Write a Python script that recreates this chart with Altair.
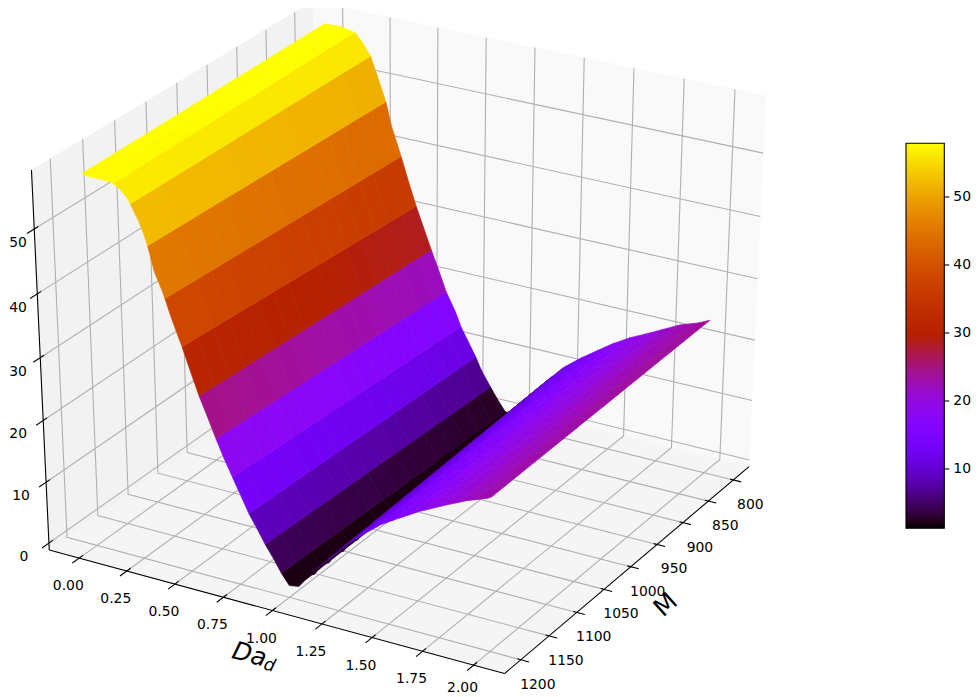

import numpy as np
import altair as alt

# ---- values ----
M_TICKS = [800, 850, 900, 950, 1000, 1050, 1100, 1150, 1200]
DA_TICKS = [0.0, 0.25, 0.5, 0.75, 1.0, 1.25, 1.5, 1.75, 2.0]
Z_TICKS = [0, 10, 20, 30, 40, 50]
DA_M1200 = [0.00, 0.04, 0.11, 0.15, 0.19, 0.23, 0.25, 0.28, 0.31, 0.33, 0.35, 0.39, 0.43, 0.48, 0.52, 0.56, 0.60, 0.64, 0.68, 0.72, 0.76, 0.80, 0.84, 0.88, 0.92, 0.96, 1.00, 1.05, 1.12, 1.21, 1.29, 1.38, 1.46, 1.54, 1.65, 1.78, 1.88, 1.98, 2.00]
Z_M1200 = [57.8, 57.6, 57.6, 57.5, 56.8, 55.5, 54.3, 52.5, 50.2, 48.0, 45.4, 42.5, 38.8, 34.7, 31.1, 27.6, 24.6, 21.5, 18.6, 16.0, 13.4, 10.8, 8.7, 6.5, 4.6, 2.5, 0.8, 1.1, 4.1, 7.0, 9.9, 12.4, 14.5, 16.1, 18.2, 20.3, 21.8, 23.0, 23.4]
DA_M800 = [0.00, 0.08, 0.16, 0.20, 0.24, 0.27, 0.32, 0.35, 0.40, 0.44, 0.48, 0.56, 0.60, 0.64, 0.69, 0.72, 0.80, 0.83, 0.88, 0.92, 0.96, 1.00, 1.04, 1.09, 1.18, 1.26, 1.35, 1.43, 1.51, 1.60, 1.69, 1.77, 1.85, 1.94, 2.00]
Z_M800 = [58.1, 58.2, 57.7, 56.3, 54.5, 52.0, 47.7, 43.9, 39.4, 35.5, 31.8, 25.2, 22.1, 18.8, 15.8, 13.5, 9.0, 7.0, 4.5, 2.6, 0.9, 0.9, 1.5, 4.8, 8.0, 10.7, 13.0, 14.8, 16.6, 18.3, 19.7, 21.0, 22.3, 23.3, 24.2]
BAND_EDGES = [round(.08 * i, 2) for i in range(26)]
M_COLS = list(range(800, 1201, 25))
ZMIN, ZMAX = 1.3, 57.9

# ---- 3-D view ----
ML, MH, DL, DH, ZL, ZH = 768.2, 1228.5, -0.159, 2.150, -1.14, 58.95
el, az = np.radians(28.74), np.radians(30.04)
box = np.array([1, 1, .95]) * 1.05
w = np.array([np.cos(el) * np.cos(az), np.cos(el) * np.sin(az), np.sin(el)])
eye = box / 2 + 10 * w
u = np.cross([0, 0, 1.], w); u /= np.linalg.norm(u); v = np.cross(w, u)
AX, AY = (4993.6, 404.9), (-4290.3, 324.4)

def world(m, d, z):
    return np.array([(m - ML) / (MH - ML), (d - DL) / (DH - DL), (z - ZL) / (ZH - ZL)]) * box - eye

def scr(m, d, z):
    p = world(m, d, z); k = -p @ w
    return float(AX[0] * (p @ u) / k + AX[1]), float(AY[0] * (p @ v) / k + AY[1])

def surf(m, d):
    t = (m - 800) / 400
    return (1 - t) * np.interp(d, DA_M800, Z_M800) + t * np.interp(d, DA_M1200, Z_M1200)

def gnuplot(t):
    r = np.sqrt(t); g = t ** 3; b = np.clip(np.sin(2 * np.pi * t), 0, 1)
    return "#%02x%02x%02x" % (round(r * 255), round(g * 255), round(b * 255))

STOPS_T = [i / 64 for i in range(65)]
COLORS = [gnuplot(t) for t in STOPS_T]
C_DOMAIN = [ZMIN + t * (ZMAX - ZMIN) for t in STOPS_T]

def feature(pts, **props):
    ring = [[a - 8, b - 8] for a, b in pts]
    ring.append(ring[0])
    return {"type": "Feature", "properties": props, "geometry": {"type": "Polygon", "coordinates": [ring]}}

# surface cells
cells = []
for lo, hi in zip(BAND_EDGES[:-1], BAND_EDGES[1:]):
    ds = sorted({lo, hi} | {d for d in DA_M800 + DA_M1200 if lo < d < hi})
    for ma, mb in zip(M_COLS[:-1], M_COLS[1:]):
        pts3 = [(ma, d, surf(ma, d)) for d in ds] + [(mb, d, surf(mb, d)) for d in reversed(ds)]
        zm = float(np.mean([q[2] for q in pts3]))
        depth = float(np.mean([world(*q) @ w for q in pts3]))
        cells.append((depth, feature([scr(*q) for q in pts3], z=min(max(zm, ZMIN), ZMAX))))
cells.sort(key=lambda c: c[0])
cells = [c[1] for c in cells]

proj = alt.Projection(type="identity", scale=1, translate=[0, 0])

def pane(corners, color):
    return alt.Chart(alt.Data(values=[feature([scr(*c) for c in corners])])).mark_geoshape(
        fill=color, stroke=color, strokeWidth=0.5).project(**proj.to_dict())

panes = [
    pane([(ML, DL, ZL), (ML, DH, ZL), (ML, DH, ZH), (ML, DL, ZH)], "#f9f9f9"),
    pane([(ML, DL, ZL), (MH, DL, ZL), (MH, DL, ZH), (ML, DL, ZH)], "#f2f2f2"),
    pane([(ML, DL, ZL), (ML, DH, ZL), (MH, DH, ZL), (MH, DL, ZL)], "#f5f5f5"),
]

# grid lines
grid = []
def gline(i, pts):
    for n, q in enumerate(pts):
        a, b = scr(*q)
        grid.append({"id": i, "n": n, "x": a, "y": b})
for m in M_TICKS:
    gline(f"m{m}", [(m, DH, ZL), (m, DL, ZL), (m, DL, ZH)])
for d in DA_TICKS:
    gline(f"d{d}", [(MH, d, ZL), (ML, d, ZL), (ML, d, ZH)])
for z in Z_TICKS:
    gline(f"z{z}", [(MH, DL, z), (ML, DL, z), (ML, DH, z)])

# axis lines and ticks
axes = []
def aline(i, pts):
    for n, q in enumerate(pts):
        a, b = scr(*q)
        axes.append({"id": i, "n": n, "x": a, "y": b})
aline("ax_m", [(ML, DH, ZL), (MH, DH, ZL)])
aline("ax_d", [(MH, DL, ZL), (MH, DH, ZL)])
aline("ax_z", [(MH, DL, ZL), (MH, DL, ZH)])
for m in M_TICKS:
    aline(f"tm{m}", [(m, DH - 0.017, ZL), (m, DH + 0.04, ZL)])
for d in DA_TICKS:
    aline(f"td{d}", [(MH - 6, d, ZL), (MH + 11, d, ZL)])
for z in Z_TICKS:
    aline(f"tz{z}", [(MH - 6, DL, z), (MH + 11, DL, z)])

# tick labels
labels = []
for m in M_TICKS:
    a, b = scr(m, DH, ZL)
    labels.append({"x": a + 17, "y": b + 25, "t": str(m)})
for d in DA_TICKS:
    a, b = scr(MH, d, ZL)
    labels.append({"x": a - 11, "y": min(b + 28, 688), "t": f"{d:.2f}"})
for z in Z_TICKS:
    a, b = scr(MH, DL, z)
    labels.append({"x": max(a - 25, 18), "y": b + 14, "t": str(z)})

# colour bar (moved left so its labels stay inside the 8px page margin)
def cb_y(z):
    return 469 - (z - 10) * 6.8
BAR_L, BAR_R = 906, 944.3
CB_TICKS = [10, 20, 30, 40, 50]
cb_rect = [{"x": BAR_L, "x2": BAR_R, "y": cb_y(ZMAX), "y2": cb_y(ZMIN)}]
cb_ticks = [{"x": BAR_R, "x2": BAR_R + 5, "y": cb_y(z)} for z in CB_TICKS]
cb_labels = [{"x": BAR_R + 9, "y": cb_y(z), "t": str(z)} for z in CB_TICKS]

X = alt.X("x:Q", scale=alt.Scale(domain=[8, 972], nice=False, zero=False), axis=None)
Y = alt.Y("y:Q", scale=alt.Scale(domain=[697, 8], nice=False, zero=False), axis=None)
FONT = "DejaVu Sans"

grid_l = alt.Chart(alt.Data(values=grid)).mark_line(color="#b0b0b0", strokeWidth=1.1).encode(
    x=X, y=Y, detail="id:N", order="n:Q")
surface = alt.Chart(alt.Data(values=cells)).mark_geoshape(strokeWidth=0.7).encode(
    fill=alt.Fill("properties.z:Q", scale=alt.Scale(domain=C_DOMAIN, range=COLORS), legend=None),
    stroke=alt.Stroke("properties.z:Q", scale=alt.Scale(domain=C_DOMAIN, range=COLORS), legend=None),
).project(**proj.to_dict())
axes_l = alt.Chart(alt.Data(values=axes)).mark_line(color="#000000", strokeWidth=1.1).encode(
    x=X, y=Y, detail="id:N", order="n:Q")
text_l = alt.Chart(alt.Data(values=labels)).mark_text(font=FONT, fontSize=13.9, color="#000000", baseline="middle", align="center").encode(
    x=X, y=Y, text="t:N")

def axis_title(t, x, y, size, angle, style="normal"):
    return alt.Chart(alt.Data(values=[{"x": x, "y": y, "t": t}])).mark_text(
        font=FONT, fontSize=size, angle=angle, fontStyle=style, color="#000000", baseline="middle", align="center"
    ).encode(x=X, y=Y, text="t:N")

mx, my = scr(1000, DH, ZL)
dx, dy = scr(MH, 1.0, ZL)
t_m = axis_title("M", mx + 35, my + 38, 25, 318)
t_da = axis_title("Da", dx - 23, dy + 44, 25, 15, "italic")
t_d = axis_title("d", dx - 3, dy + 55, 17.5, 15, "italic")

stops = [alt.GradientStop(color=c, offset=t) for c, t in zip(COLORS, STOPS_T)]
grad = alt.LinearGradient(gradient="linear", stops=stops, x1=0, x2=0, y1=1, y2=0)
cb = alt.Chart(alt.Data(values=cb_rect)).mark_rect(fill=grad, stroke="#000000", strokeWidth=1.1).encode(
    x=X, x2="x2:Q", y=Y, y2="y2:Q")
cb_t = alt.Chart(alt.Data(values=cb_ticks)).mark_rule(color="#000000", strokeWidth=1.1).encode(x=X, x2="x2:Q", y=Y)
cb_l = alt.Chart(alt.Data(values=cb_labels)).mark_text(font=FONT, fontSize=13.9, color="#000000", baseline="middle", align="left").encode(
    x=X, y=Y, text="t:N")

chart = alt.layer(*panes, grid_l, surface, axes_l, text_l, t_m, t_da, t_d, cb, cb_t, cb_l).resolve_scale(
    fill="independent", stroke="independent"
).properties(width=964, height=689, padding=0, autosize="none").configure_view(stroke=None)
chart.save("out.html", embed_options={"renderer": "svg", "actions": False})
